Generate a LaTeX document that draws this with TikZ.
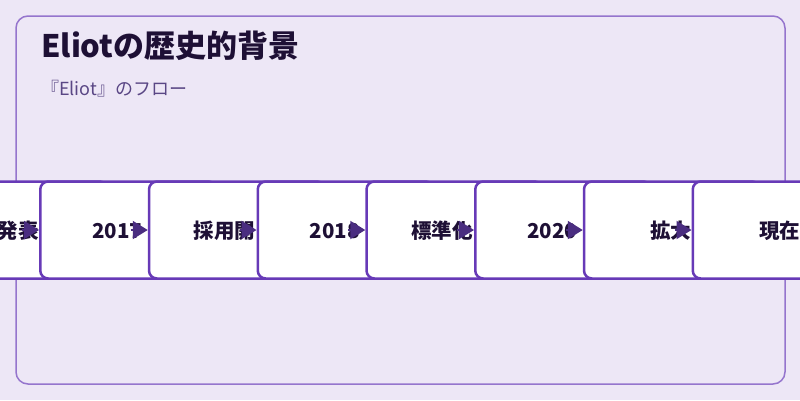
\documentclass[tikz,border=0pt]{standalone}
\usepackage{fontspec}
\setmainfont{Noto Sans CJK JP}
\usetikzlibrary{arrows.meta,calc}
\definecolor{bgc}{HTML}{EDE7F6}
\definecolor{panelc}{HTML}{9575CD}
\definecolor{boxc}{HTML}{673AB7}
\definecolor{arrc}{HTML}{4A2D80}
\definecolor{titlec}{HTML}{1E1035}
\definecolor{subc}{HTML}{5A4785}
\tikzset{
  stepbox/.style={draw=boxc, line width=2.5pt, fill=white, rounded corners=8pt,
    minimum width=176pt, minimum height=97pt, inner sep=0pt, anchor=west},
  steptext/.style={text=titlec, font=\fontsize{20.5}{24}\selectfont\bfseries, inner sep=0pt},
  flowarrow/.style={draw=arrc, line width=2pt, -{Triangle[length=15pt,width=18pt]}},
}
\begin{document}
\begin{tikzpicture}[x=1pt,y=-1pt]
\useasboundingbox (0,0) rectangle (800,400);
\clip (0,0) rectangle (800,400);
\fill[bgc] (0,0) rectangle (800,400);
\draw[panelc, line width=1.5pt, fill=bgc, rounded corners=12pt] (16,16) rectangle (785,384);
\node[anchor=base west, inner sep=0pt, text=titlec, font=\fontsize{31}{36}\selectfont\bfseries] (title) at (41,57) {Eliotの歴史的背景};
\node[anchor=base west, inner sep=0pt, text=subc, font=\fontsize{18}{21}\selectfont] (sub) at (41,95) {『Eliot』のフロー};
% step 1
\node[stepbox] (b1) at (-69.75,230) {};
\node[steptext] (t1) at ($(b1.west)+(88,1)$) {発表};
\coordinate (a2) at (22,230);
\draw[flowarrow] (a2) -- (39,230) coordinate (e2);
% step 2
\node[stepbox] (b2) at (e2) {};
\node[steptext, anchor=west] (t2) at ($(b2.west)+(53,1)$) {2017};
\coordinate (a3) at ($(b2.west)+(91.75,0)$);
\draw[flowarrow] (a3) -- ++(17,0) coordinate (e3);
% step 3
\node[stepbox] (b3) at (e3) {};
\node[steptext, anchor=west] (t3) at ($(b3.west)+(46,1)$) {採用開};
\coordinate (a4) at ($(b3.west)+(91.75,0)$);
\draw[flowarrow] (a4) -- ++(17,0) coordinate (e4);
% step 4
\node[stepbox] (b4) at (e4) {};
\node[steptext, anchor=west] (t4) at ($(b4.west)+(53,1)$) {2018};
\coordinate (a5) at ($(b4.west)+(91.75,0)$);
\draw[flowarrow] (a5) -- ++(17,0) coordinate (e5);
% step 5
\node[stepbox] (b5) at (e5) {};
\node[steptext, anchor=west] (t5) at ($(b5.west)+(46,1)$) {標準化};
\coordinate (a6) at ($(b5.west)+(91.75,0)$);
\draw[flowarrow] (a6) -- ++(17,0) coordinate (e6);
% step 6
\node[stepbox] (b6) at (e6) {};
\node[steptext, anchor=west] (t6) at ($(b6.west)+(53,1)$) {2020};
\coordinate (a7) at ($(b6.west)+(91.75,0)$);
\draw[flowarrow] (a7) -- ++(17,0) coordinate (e7);
% step 7
\node[stepbox] (b7) at (e7) {};
\node[steptext] (t7) at ($(b7.west)+(88,1)$) {拡大};
\coordinate (a8) at ($(b7.west)+(91.75,0)$);
\draw[flowarrow] (a8) -- ++(17,0) coordinate (e8);
% step 8
\node[stepbox] (b8) at (e8) {};
\node[steptext] (t8) at ($(b8.west)+(88,1)$) {現在};
\end{tikzpicture}
\end{document}
